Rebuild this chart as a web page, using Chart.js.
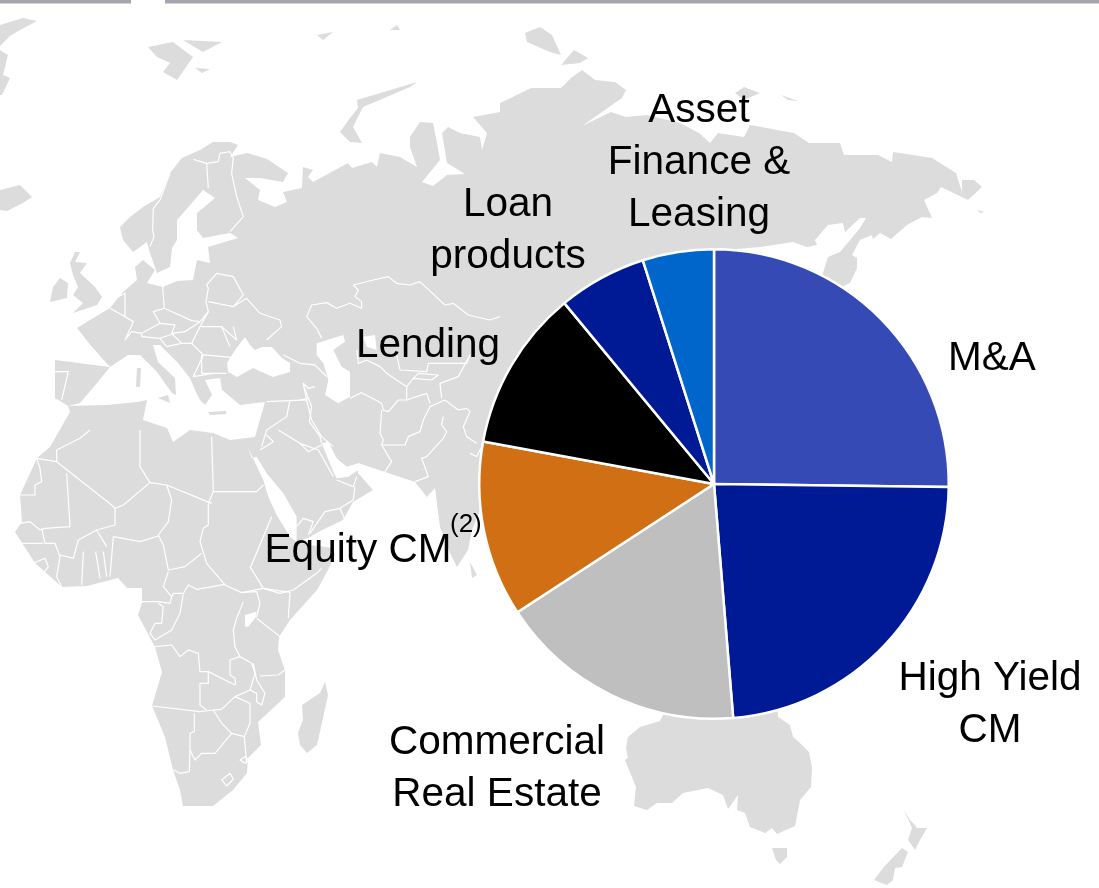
<!DOCTYPE html>
<html>
<head>
<meta charset="utf-8">
<script src="https://cdn.jsdelivr.net/npm/chart.js@4"></script>
<style>
html,body{margin:0;padding:0;background:#fff;width:1099px;height:888px;overflow:hidden}
#map,#c{position:absolute;left:0;top:0}
.land{fill:#dcdcdc;stroke:none}
.sea{fill:#fff;stroke:none}
.b{fill:none;stroke:#fff;stroke-width:3.6;stroke-linejoin:round}
.bar{fill:#a5a5b0}
</style>
</head>
<body>
<svg id="map" width="1099" height="888" viewBox="0 0 1099 888">
<rect class="bar" x="0" y="0" width="131" height="3.5"/>
<rect class="bar" x="165" y="0" width="934" height="3.5"/>
<!-- Eurasia + Africa -->
<polygon class="land" points="55,360 55,398 68,406 70,412 50,447 37,458 20,495 22,522 15,532 35,563 62,587 87,586 118,578 127,588 142,588 142,603 138,615 155,647 162,672 152,706 165,737 173,770 180,790 183,806 213,806 233,790 247,773 248,758 261,745 258,722 285,697 285,670 278,650 279,637 290,620 317,590 328,570 335,555 333,548 310,545 297,542 310,537 322,530 343,520 353,502 373,490 358,473 358,463 385,472 415,482 427,497 435,488 440,527 450,553 457,567 468,550 472,530 482,505 640,400 725,250 760,247 793,242 807,247 817,245 815,240 828,225 843,223 845,232 860,218 866,218 860,228 840,252 828,257 823,273 825,295 842,287 850,283 857,268 857,258 852,255 860,240 872,235 873,239 880,233 891,239 907,225 922,217 932,218 924,200 937,193 941,187 968,200 982,187 974,180 962,180 962,192 956,173 932,158 893,152 892,162 878,155 844,155 840,143 809,143 794,133 750,125 744,137 718,133 710,143 699,133 680,123 647,115 626,117 611,112 582,126 622,98 626,90 615,82 595,80 582,70 571,78 561,88 531,88 500,103 500,112 473,117 487,133 482,150 480,137 460,133 448,127 442,133 447,163 465,174 447,175 433,186 422,182 440,160 437,143 433,123 420,122 410,137 410,147 417,167 400,157 380,153 377,167 372,162 352,168 348,163 313,182 308,177 313,170 303,167 302,188 283,192 287,202 275,207 258,200 260,190 245,178 260,178 283,182 288,173 267,159 247,153 230,157 238,145 230,142 213,142 200,150 182,158 170,173 160,197 143,207 130,217 120,227 123,240 133,252 147,242 150,253 157,273 170,267 172,248 177,240 177,220 197,197 203,190 215,198 197,213 197,230 203,238 230,233 238,238 208,247 210,263 197,260 193,280 177,281 163,287 147,283 155,270 143,260 135,267 137,280 122,293 110,308 90,320 77,328 92,347 110,367"/>
<!-- Mediterranean -->
<polygon class="sea" points="68,406 80,403 97,383 110,367 128,355 140,355 157,372 172,393 176,395 175,378 158,362 153,345 160,345 178,363 190,378 195,390 200,400 205,405 212,395 205,380 220,378 222,390 240,405 265,402 255,437 230,440 213,433 190,430 173,442 167,428 143,420 147,400 137,402 107,405"/>
<polygon class="land" points="137,368 141,368 140,387 136,387"/>
<polygon class="land" points="158,398 168,395 170,403"/>
<polygon class="land" points="208,412 226,411 226,414 210,415"/>
<!-- Black Sea -->
<polygon class="sea" points="227,363 235,350 245,337 250,345 255,350 262,347 272,347 282,358 290,363 290,372 273,377 253,368 237,377 228,372"/>
<g transform="translate(300,300) scale(0.3333)">
<polygon class="sea" points="50,130 130,105 135,125 100,150 125,200 150,215 150,290 115,310 75,285 85,240 70,190 50,165"/>
<polygon class="sea" points="190,110 225,105 230,150 200,140"/>
<polygon class="sea" points="65,430 85,425 110,475 140,500 175,490 175,510 145,530 110,535 100,515"/>
</g>
<g transform="translate(0,430) scale(0.3333)">
<polygon class="sea" points="745,55 790,150 805,200 830,255 870,320 890,335 890,260 850,190 800,130 770,80 755,85"/>
<polygon class="sea" points="735,555 770,545 765,565 745,590 735,590"/>
</g>
<!-- Islands -->
<polygon class="land" points="75,252 80,252 75,262 87,263 80,273 95,287 102,297 97,305 73,313 83,303 73,295 78,287 73,275 70,263"/>
<polygon class="land" points="60,278 68,283 67,298 50,302 53,287"/>
<polygon class="land" points="0,190 20,185 32,197 23,203 7,211 0,210"/>
<polygon class="land" points="0,25 23,18 37,21 20,30 10,36 0,46"/>
<polygon class="land" points="0,50 8,55 3,75 10,78 2,95 0,95"/>
<polygon class="land" points="148,47 173,42 193,57 177,80 163,72 170,63 157,57"/>
<polygon class="land" points="183,40 222,42 203,52"/>
<polygon class="land" points="195,68 210,69 202,73"/>
<polygon class="land" points="417,82 357,100 358,108 350,118 340,132 350,142 362,143 353,127 363,107 410,87"/>
<polygon class="land" points="317,35 333,32 323,40"/>
<polygon class="land" points="390,30 397,25 400,30"/>
<polygon class="land" points="525,33 540,27 552,35 561,55 550,52 527,42"/>
<polygon class="land" points="561,65 574,50 588,58 580,63"/>
<polygon class="land" points="735,93 744,87 760,93 744,100"/>
<polygon class="land" points="781,95 798,101 788,100"/>
<polygon class="land" points="977,210 985,212 980,213"/>
<polygon class="land" points="325,682 328,695 317,745 307,753 300,745 298,733 303,720 302,705 320,693"/>
<polygon class="land" points="470,562 477,575 472,578"/>
<polygon class="land" points="720,700 663,715 660,721 640,727 628,737 626,748 628,758 625,760 636,787 634,806 647,810 657,803 672,803 683,793 708,788 723,795 728,809 738,795 737,810 745,813 750,827 765,833 772,828 777,834 795,826 800,800 811,787 812,768 809,752 799,742 793,737 790,725 778,717 777,700"/>
<polygon class="land" points="772,848 787,848 787,857 780,864 776,860"/>
<polygon class="land" points="904,810 910,820 915,825 917,828 927,828 920,840 915,850 908,840 912,828"/>
<polygon class="land" points="902,848 908,852 902,867 895,868 893,880 887,885 874,880 883,868"/>
<!-- Borders -->
<g transform="scale(0.3333)">
<polyline class="b" points="510,520 480,600 460,625 458,690 462,710 450,740"/>
<polyline class="b" points="580,478 620,490 655,485 660,460 690,455 700,475 695,520 710,590 730,650 690,695"/>
<polyline class="b" points="620,490 625,565"/>
<polyline class="b" points="330,925 375,950 400,965 375,1020 395,995 425,1000 425,1010 480,1015 525,1000"/>
<polyline class="b" points="355,890 375,880 375,950"/>
<polyline class="b" points="488,860 493,925 460,935 480,970 425,1000"/>
<polyline class="b" points="480,970 525,975 515,1000"/>
<polyline class="b" points="493,925 575,962 600,965 625,935 618,905 625,865 620,855 650,820 700,830 730,885 700,920 625,905"/>
<polyline class="b" points="625,935 600,980 665,980 710,1020 700,980"/>
<polyline class="b" points="700,920 740,895 780,940 840,960 845,980 800,1020"/>
<polyline class="b" points="600,965 555,995 515,1000 545,1030 575,1030 600,980"/>
<polyline class="b" points="575,1030 610,1065 695,1072"/>
<polyline class="b" points="665,980 690,1040"/>
<polyline class="b" points="605,1065 605,1120 680,1120"/>
<polyline class="b" points="480,1015 500,1040 545,1030"/>
<polyline class="b" points="610,1065 580,1130 640,1120"/>
<polyline class="b" points="250,1080 330,1100"/>
<polyline class="b" points="165,1115 205,1115 185,1200"/>
<polyline class="b" points="1060,855 1120,840 1165,830 1190,850 1230,855 1260,845 1335,915 1360,910 1405,945 1470,960 1500,950"/>
<polyline class="b" points="1060,855 1075,870 1065,890 1085,905 1085,925 1050,910 1010,925 980,908 935,915 920,950 950,985 965,1015"/>
<polyline class="b" points="800,1205 920,1200 910,1150 925,1165 945,1160"/>
<polyline class="b" points="850,1065 900,1090 945,1095 980,1130"/>
<polyline class="b" points="920,1200 935,1260 965,1310 1000,1340"/>
<polyline class="b" points="870,1200 860,1250 800,1290 785,1340"/>
</g>
<g transform="translate(300,300) scale(0.3333)">
<polyline class="b" points="150,295 185,278 245,310 250,330 265,335 295,300 320,300 380,280 390,310"/>
<polyline class="b" points="245,330 240,400 250,420 245,435 315,435 325,410 360,395 370,360 390,320 435,300"/>
<polyline class="b" points="435,300 475,330 500,325 510,335 490,380 500,410 530,430"/>
<polyline class="b" points="430,350 425,375 440,395 430,415 380,470 365,475 385,530 345,545"/>
<polyline class="b" points="245,435 275,485 255,515"/>
<polyline class="b" points="170,150 175,190 200,180 240,200 260,220 320,260 320,300"/>
<polyline class="b" points="320,260 340,235 395,240 415,225 355,220 340,235"/>
<polyline class="b" points="290,165 300,210 380,215 385,190 500,190 510,165 475,230 420,250 425,295"/>
<polyline class="b" points="10,255 35,320 28,365 60,410 65,430"/>
<polyline class="b" points="0,300 25,295"/>
<polyline class="b" points="0,430 55,450 100,530"/>
<polyline class="b" points="110,540 160,560 170,530"/>
<polyline class="b" points="30,700 75,635 120,625 135,660"/>
<polyline class="b" points="165,560 160,600 120,625"/>
<polyline class="b" points="510,460 530,470 545,440"/>
</g>
<g transform="translate(0,430) scale(0.3333)">
<polyline class="b" points="170,60 170,95 335,225 345,235 370,225 450,158 420,110 420,0"/>
<polyline class="b" points="170,95 110,85 120,115 125,155 105,165 105,195 60,195"/>
<polyline class="b" points="200,130 210,290 135,295 120,300 90,275 60,280"/>
<polyline class="b" points="170,60 240,25 270,0"/>
<polyline class="b" points="450,158 500,165 635,220"/>
<polyline class="b" points="625,220 640,185 635,20"/>
<polyline class="b" points="640,185 770,185 790,165"/>
<polyline class="b" points="625,220 625,285 610,295 600,335 620,400 675,465 725,488 790,475"/>
<polyline class="b" points="500,165 515,210 505,275 475,315 490,345 505,420 555,410 605,370"/>
<polyline class="b" points="345,235 345,285 290,300 320,350"/>
<polyline class="b" points="340,320 420,335 475,318"/>
<polyline class="b" points="340,320 330,440"/>
<polyline class="b" points="310,365 320,440"/>
<polyline class="b" points="287,365 300,445"/>
<polyline class="b" points="250,365 245,465"/>
<polyline class="b" points="220,385 235,330 290,300"/>
<polyline class="b" points="220,385 180,375"/>
<polyline class="b" points="125,295 135,340 165,340 180,380 175,410 170,440 185,470"/>
<polyline class="b" points="60,340 130,340"/>
<polyline class="b" points="100,400 135,385 145,410 130,430"/>
<polyline class="b" points="505,425 490,470 515,500 510,520 475,515 425,515"/>
<polyline class="b" points="550,490 520,490 515,500"/>
<polyline class="b" points="475,520 490,530 485,580 465,580 450,610 465,630"/>
<polyline class="b" points="550,490 565,465 590,478 675,463"/>
<polyline class="b" points="750,410 790,475 840,490 880,480 950,430 965,415"/>
<polyline class="b" points="815,260 765,380 750,415"/>
<polyline class="b" points="890,290 910,265 940,275 925,315"/>
<polyline class="b" points="790,475 870,487 865,565"/>
<polyline class="b" points="770,565 840,620"/>
<polyline class="b" points="725,488 770,485 780,520 770,560 735,565"/>
<polyline class="b" points="730,515 710,565 700,600 705,650 720,680 755,700"/>
<polyline class="b" points="550,490 540,550 515,600 465,630"/>
<polyline class="b" points="465,650 515,645 540,680 565,660 595,670 600,725 625,725 705,765"/>
<polyline class="b" points="720,680 690,690 690,735 705,745 707,765"/>
<polyline class="b" points="625,725 625,760 600,760 600,825 620,840"/>
<polyline class="b" points="457,828 600,845 640,840 665,838 705,800 750,780"/>
<polyline class="b" points="780,738 835,735 855,720"/>
<polyline class="b" points="755,700 765,730 750,780 770,790 770,815 785,825 795,790 770,750 760,700"/>
<polyline class="b" points="705,800 750,820 750,880 733,920"/>
<polyline class="b" points="640,840 665,880 695,910 733,920 740,1000"/>
<polyline class="b" points="695,910 645,970 605,970 585,990 570,960 570,910 583,905 583,850"/>
<polyline class="b" points="570,960 568,1025 540,1030 520,1020"/>
<polygon class="b" points="720,990 735,980 745,990 735,1000"/>
<polygon class="b" points="665,1050 690,1030 700,1048 680,1068"/>
<polyline class="b" points="835,0 900,40 925,65 965,45"/>
<polyline class="b" points="780,60 820,35 800,15"/>
</g>
</svg>
<canvas id="c" width="1099" height="888"></canvas>
<script>
const categories = ["M&A", "High Yield CM", "Commercial Real Estate", "Equity CM", "Lending", "Loan products", "Asset Finance & Leasing"];
const shares = [25.2, 23.5, 17.1, 12.1, 11.1, 6.1, 4.9];
const sliceColors = ["#354ab5", "#001a96", "#bfbfbf", "#d06f13", "#000000", "#001a96", "#0066cc"];
const labelLines = [["M&A"], ["High Yield", "CM"], ["Commercial", "Real Estate"], ["Equity CM"], ["Lending"], ["Loan", "products"], ["Asset", "Finance &", "Leasing"]];
const footnoteMark = "(2)";

const labelLayout = [
  {x: 992, y: 370},
  {x: 990, y: 690},
  {x: 497, y: 754},
  {x: 358, y: 562, note: {x: 450, y: 532}},
  {x: 428, y: 357},
  {x: 508, y: 216},
  {x: 699, y: 122}
];
const sliceLabels = {
  id: "sliceLabels",
  afterDraw(chart) {
    const ctx = chart.ctx;
    ctx.save();
    ctx.fillStyle = "#000";
    ctx.textAlign = "center";
    ctx.textBaseline = "alphabetic";
    ctx.font = "40.5px 'Liberation Sans', Arial, sans-serif";
    labelLines.forEach((lines, i) => {
      const p = labelLayout[i];
      lines.forEach((t, j) => ctx.fillText(t, p.x, p.y + j * 52));
      if (p.note) {
        ctx.save();
        ctx.textAlign = "left";
        ctx.font = "26px 'Liberation Sans', Arial, sans-serif";
        ctx.fillText(footnoteMark, p.note.x, p.note.y);
        ctx.restore();
      }
    });
    ctx.restore();
  }
};

new Chart(document.getElementById("c"), {
  type: "pie",
  data: {
    labels: categories,
    datasets: [{
      data: shares,
      backgroundColor: sliceColors,
      borderColor: "#ffffff",
      borderWidth: 2.5
    }]
  },
  options: {
    responsive: false,
    animation: false,
    layout: {padding: {left: 478, right: 149, top: 248, bottom: 168}},
    plugins: {legend: {display: false}, tooltip: {enabled: false}}
  },
  plugins: [sliceLabels]
});
</script>
</body>
</html>
